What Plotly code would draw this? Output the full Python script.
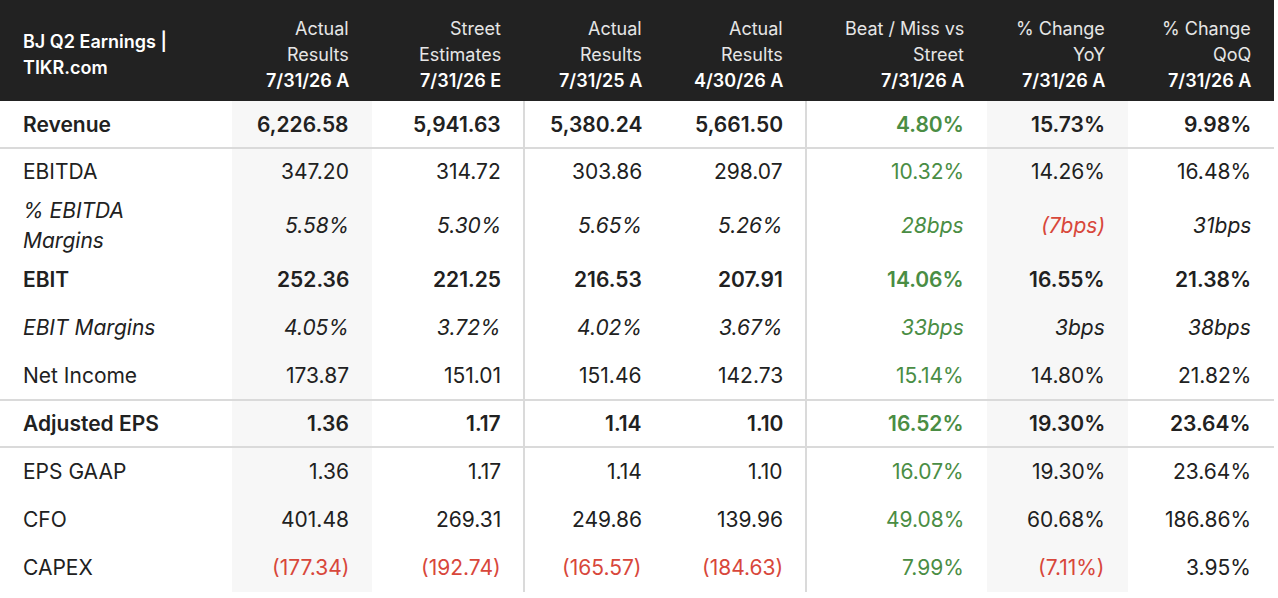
import plotly.graph_objects as go

# table content
header_top = ["Actual", "Street", "Actual", "Actual", "Beat / Miss vs", "% Change", "% Change"]
header_mid = ["Results", "Estimates", "Results", "Results", "Street", "YoY", "QoQ"]
header_date = ["7/31/26 A", "7/31/26 E", "7/31/25 A", "4/30/26 A", "7/31/26 A", "7/31/26 A", "7/31/26 A"]
title_lines = ["BJ Q2 Earnings |", "TIKR.com"]

row_labels = ["Revenue", "EBITDA", "% EBITDA|Margins", "EBIT", "EBIT Margins", "Net Income",
              "Adjusted EPS", "EPS GAAP", "CFO", "CAPEX"]
row_kind = ["bold", "plain", "margin", "bold", "margin", "plain", "bold", "plain", "plain", "plain"]

actual_q2_26 = [6226.58, 347.20, 5.58, 252.36, 4.05, 173.87, 1.36, 1.36, 401.48, -177.34]
street_q2_26 = [5941.63, 314.72, 5.30, 221.25, 3.72, 151.01, 1.17, 1.17, 269.31, -192.74]
actual_q2_25 = [5380.24, 303.86, 5.65, 216.53, 4.02, 151.46, 1.14, 1.14, 249.86, -165.57]
actual_q1_26 = [5661.50, 298.07, 5.26, 207.91, 3.67, 142.73, 1.10, 1.10, 139.96, -184.63]
beat_miss = [4.80, 10.32, 28, 14.06, 33, 15.14, 16.52, 16.07, 49.08, 7.99]
change_yoy = [15.73, 14.26, -7, 16.55, 3, 14.80, 19.30, 19.30, 60.68, -7.11]
change_qoq = [9.98, 16.48, 31, 21.38, 38, 21.82, 23.64, 23.64, 186.86, 3.95]

value_cols = [actual_q2_26, street_q2_26, actual_q2_25, actual_q1_26]
change_cols = [beat_miss, change_yoy, change_qoq]

# layout geometry (pixels)
col_edges = [0, 232, 372, 524, 665, 806, 987, 1128, 1274]
header_h = 101
row_heights = [47, 48, 60, 48, 48, 48, 47, 49, 48, 48]
shaded_cols = [1, 6]
divider_cols = [3, 5]
lines_after_rows = [0, 5, 6]
pad = 21

FONT = "Inter, Roboto, sans-serif"
TEXT = "#212121"
GREEN = "#4a8d44"
RED = "#d8473b"
GRID = "#dadada"


def fmt_value(v, kind):
    if kind == "margin":
        s = f"{abs(v):.2f}%"
    else:
        s = f"{abs(v):,.2f}"
    return f"({s})" if v < 0 else s


def fmt_change(v, kind):
    s = f"{abs(v):g}bps" if kind == "margin" else f"{abs(v):.2f}%"
    return f"({s})" if v < 0 else s


row_top = [header_h]
for h in row_heights:
    row_top.append(row_top[-1] + h)
row_mid = [(row_top[i] + row_top[i + 1]) / 2 - 0.5 for i in range(len(row_heights))]
table_bottom = row_top[-1]

fig = go.Figure()
shapes = []
annotations = []

# header band and shaded columns
shapes.append(dict(type="rect", x0=col_edges[0], x1=col_edges[-1], y0=0, y1=header_h,
                   fillcolor="#222222", line_width=0, layer="below"))
for c in shaded_cols:
    shapes.append(dict(type="rect", x0=col_edges[c], x1=col_edges[c + 1], y0=header_h, y1=table_bottom,
                       fillcolor="#f7f7f7", line_width=0, layer="below"))
for r in lines_after_rows:
    shapes.append(dict(type="line", x0=col_edges[0], x1=col_edges[-1], y0=row_top[r + 1], y1=row_top[r + 1],
                       line=dict(color=GRID, width=2)))
for c in divider_cols:
    shapes.append(dict(type="line", x0=col_edges[c], x1=col_edges[c], y0=header_h, y1=table_bottom,
                       line=dict(color=GRID, width=2)))


def add_text(x, y, text, anchor="right", color=TEXT, size=21, weight=400, style="normal"):
    annotations.append(dict(x=x, y=y, text=text, showarrow=False, xanchor=anchor, yanchor="middle",
                            font=dict(family=FONT, size=size, color=color, weight=weight, style=style)))


# header text
add_text(pad, 41, title_lines[0], anchor="left", color="white", size=18, weight=600)
add_text(pad, 67, title_lines[1], anchor="left", color="white", size=18, weight=600)
for j in range(len(header_top)):
    xr = col_edges[j + 2] - pad
    add_text(xr, 28, header_top[j], color="#e6e6e6", size=18)
    add_text(xr, 54, header_mid[j], color="#e6e6e6", size=18)
    add_text(xr, 80, header_date[j], color="white", size=18, weight=600)

# body text
for i, label in enumerate(row_labels):
    kind = row_kind[i]
    weight = 600 if kind == "bold" else 400
    style = "italic" if kind == "margin" else "normal"
    parts = label.split("|")
    if len(parts) == 1:
        add_text(pad, row_mid[i], label, anchor="left", weight=weight, style=style)
    else:
        add_text(pad, row_mid[i] - 15, parts[0], anchor="left", weight=weight, style=style)
        add_text(pad, row_mid[i] + 15, parts[1], anchor="left", weight=weight, style=style)

    for j, col in enumerate(value_cols):
        v = col[i]
        add_text(col_edges[j + 2] - pad, row_mid[i], fmt_value(v, kind),
                 color=RED if v < 0 else TEXT, weight=weight, style=style)

    for j, col in enumerate(change_cols):
        v = col[i]
        if j == 0:
            color = GREEN if v >= 0 else RED
        else:
            color = RED if v < 0 else TEXT
        add_text(col_edges[j + 6] - pad, row_mid[i], fmt_change(v, kind),
                 color=color, weight=weight, style=style)

fig.update_layout(
    width=1278,
    height=598,
    margin=dict(l=0, r=0, t=0, b=0),
    paper_bgcolor="white",
    plot_bgcolor="white",
    showlegend=False,
    shapes=shapes,
    annotations=annotations,
    xaxis=dict(range=[0, 1278], visible=False, fixedrange=True),
    yaxis=dict(range=[598, 0], visible=False, fixedrange=True),
)

fig.write_html("out.html", config={"displayModeBar": False},
               post_script="document.body.style.margin='0';")
